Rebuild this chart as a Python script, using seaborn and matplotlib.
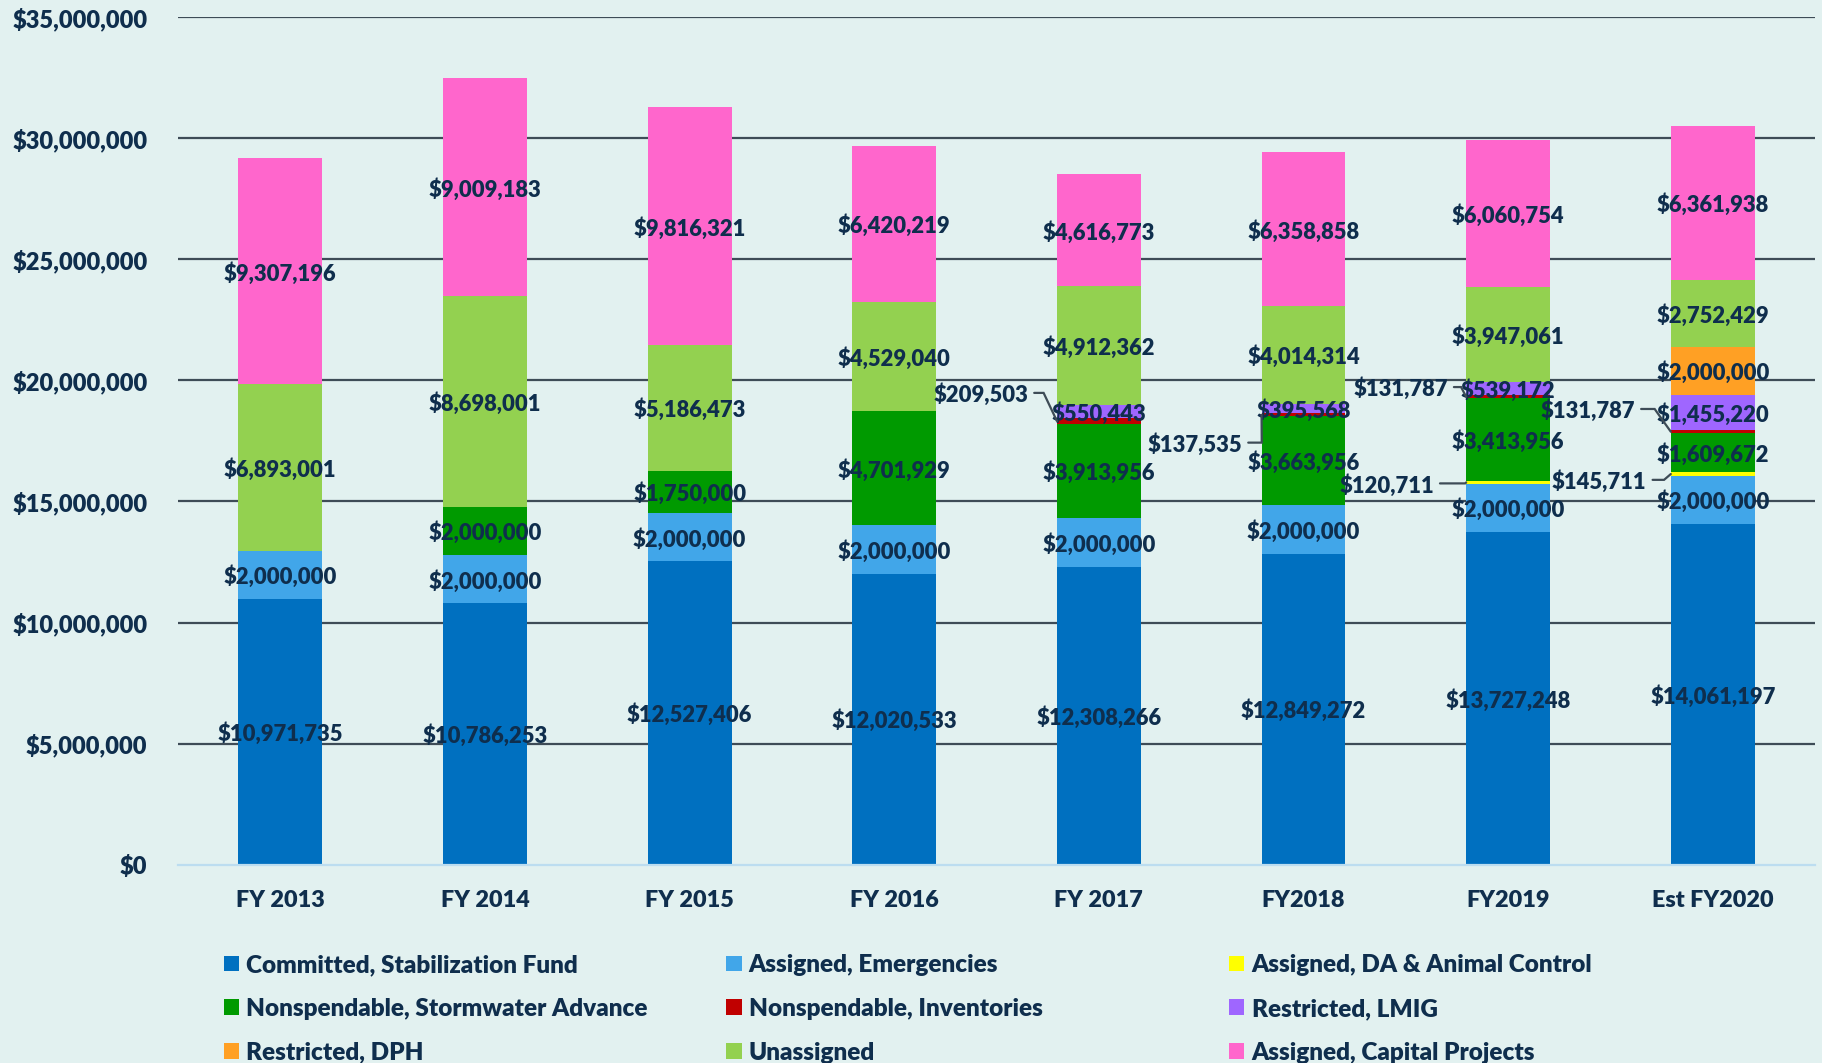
import numpy as np
import pandas as pd
import matplotlib
matplotlib.use("Agg")
import matplotlib.pyplot as plt
from matplotlib.patches import Patch
import seaborn as sns

# ---------------- data ----------------
categories = ["FY 2013", "FY 2014", "FY 2015", "FY 2016", "FY 2017", "FY2018", "FY2019", "Est FY2020"]

committed_stabilization = [10971735, 10786253, 12527406, 12020533, 12308266, 12849272, 13727248, 14061197]
assigned_emergencies    = [2000000, 2000000, 2000000, 2000000, 2000000, 2000000, 2000000, 2000000]
assigned_da_animal      = [0, 0, 0, 0, 0, 0, 120711, 145711]
nonsp_stormwater        = [0, 2000000, 1750000, 4701929, 3913956, 3663956, 3413956, 1609672]
nonsp_inventories       = [0, 0, 0, 0, 209503, 137535, 131787, 131787]
restricted_lmig         = [0, 0, 0, 0, 550443, 395568, 539172, 1455220]
restricted_dph          = [0, 0, 0, 0, 0, 0, 0, 2000000]
unassigned              = [6893001, 8698001, 5186473, 4529040, 4912362, 4014314, 3947061, 2752429]
assigned_capital        = [9307196, 9009183, 9816321, 6420219, 4616773, 6358858, 6060754, 6361938]

series_names = ["Committed, Stabilization Fund", "Assigned, Emergencies", "Assigned, DA & Animal Control",
                "Nonspendable, Stormwater Advance", "Nonspendable, Inventories", "Restricted, LMIG",
                "Restricted, DPH", "Unassigned", "Assigned, Capital Projects"]
series_values = [committed_stabilization, assigned_emergencies, assigned_da_animal, nonsp_stormwater,
                 nonsp_inventories, restricted_lmig, restricted_dph, unassigned, assigned_capital]
series_colors = ["#0070C0", "#41A6E9", "#FFFF00", "#009A00", "#C00000", "#9F66FF", "#FFA024", "#93D150", "#FF66CC"]

y_ticks = [0, 5000000, 10000000, 15000000, 20000000, 25000000, 30000000, 35000000]

# small segments labelled outside with leader lines:
# (series index, category index, text dx, text dy, elbow dx)
callouts = [
    (4, 4, -0.346, 1160000, -0.27),
    (4, 5, -0.300, -1150000, -0.204),
    (4, 6, -0.295, 400000, -0.23),
    (2, 6, -0.363, -40000, -0.21),
    (4, 7, -0.380, 940000, -0.284),
    (2, 7, -0.324, -240000, -0.238),
]

# ---------------- style ----------------
BG = "#E2F1F0"
TXT = "#0F2E4D"
GRID = "#3E4C57"
W = "heavy"
LBL = 15.8
sns.set_style("white")
plt.rcParams["font.family"] = ["Lato", "DejaVu Sans"]
plt.rcParams["font.weight"] = W

fig = plt.figure(figsize=(18.22, 10.63), dpi=100, facecolor=BG)
ax = fig.add_axes([0.0977, 0.1867, 0.8985, 0.7969])
ax.set_facecolor(BG)

vals = np.array(series_values, dtype=float)
cum = np.cumsum(vals, axis=0)
bottoms = cum - vals
BAR_W = 0.41

# draw from top series down so lower layers overlay
for k in range(len(series_names) - 1, -1, -1):
    df = pd.DataFrame({"cat": categories, "val": cum[k]})
    sns.barplot(data=df, x="cat", y="val", color=series_colors[k], saturation=1,
                width=BAR_W, ax=ax, zorder=2, linewidth=0)

callout_keys = {(c[0], c[1]) for c in callouts}
for k in range(len(series_names)):
    for i in range(len(categories)):
        v = vals[k, i]
        if v <= 0 or (k, i) in callout_keys:
            continue
        ax.text(i, bottoms[k, i] + v / 2, f"${int(v):,}", ha="center", va="center_baseline",
                fontsize=LBL, fontweight=W, color=TXT, zorder=5)

half = BAR_W / 2
for k, i, dx, dy, ex in callouts:
    v = vals[k, i]
    yc = bottoms[k, i] + v / 2
    ty = yc + dy
    ax.text(i + dx, ty, f"${int(v):,}", ha="right", va="center_baseline",
            fontsize=LBL, fontweight=W, color=TXT, zorder=5)
    ax.plot([i + dx + 0.03, i + ex, i - half], [ty, ty, yc], color=GRID, lw=1.6,
            zorder=6, solid_joinstyle="miter")

ax.set_xlim(-0.5, len(categories) - 0.5)
ax.set_ylim(0, 35000000)
ax.set_yticks(y_ticks)
ax.set_yticklabels([f"${t:,}" for t in y_ticks])
ax.set_xlabel("")
ax.set_ylabel("")
ax.yaxis.grid(True, color=GRID, lw=1.6, zorder=0)
ax.set_axisbelow(True)
ax.get_ygridlines()[0].set_visible(False)
for s in ["left", "right", "top"]:
    ax.spines[s].set_visible(False)
ax.spines["bottom"].set_color("#BCDDF0")
ax.spines["bottom"].set_linewidth(1.6)
ax.tick_params(axis="y", length=0, pad=22, labelsize=17, labelcolor=TXT)
ax.tick_params(axis="x", length=0, pad=18.5, labelsize=16.8, labelcolor=TXT)
for lab in ax.get_xticklabels() + ax.get_yticklabels():
    lab.set_fontweight(W)

# legend: three columns placed separately
cols = [[0, 3, 6], [1, 4, 7], [2, 5, 8]]
xs = [0.1227, 0.3987, 0.6747]
for xpos, idxs in zip(xs, cols):
    handles = [Patch(facecolor=series_colors[j], edgecolor="none") for j in idxs]
    labels = [series_names[j] for j in idxs]
    leg = fig.legend(handles, labels, loc="upper left", bbox_to_anchor=(xpos, 0.1025),
                     frameon=False, fontsize=17.5, handlelength=0.62, handleheight=0.62,
                     handletextpad=0.3, labelspacing=0.9, borderaxespad=0, borderpad=0)
    for t in leg.get_texts():
        t.set_color(TXT)
        t.set_fontweight(W)

fig.savefig("out.png", dpi=100, facecolor=BG)
